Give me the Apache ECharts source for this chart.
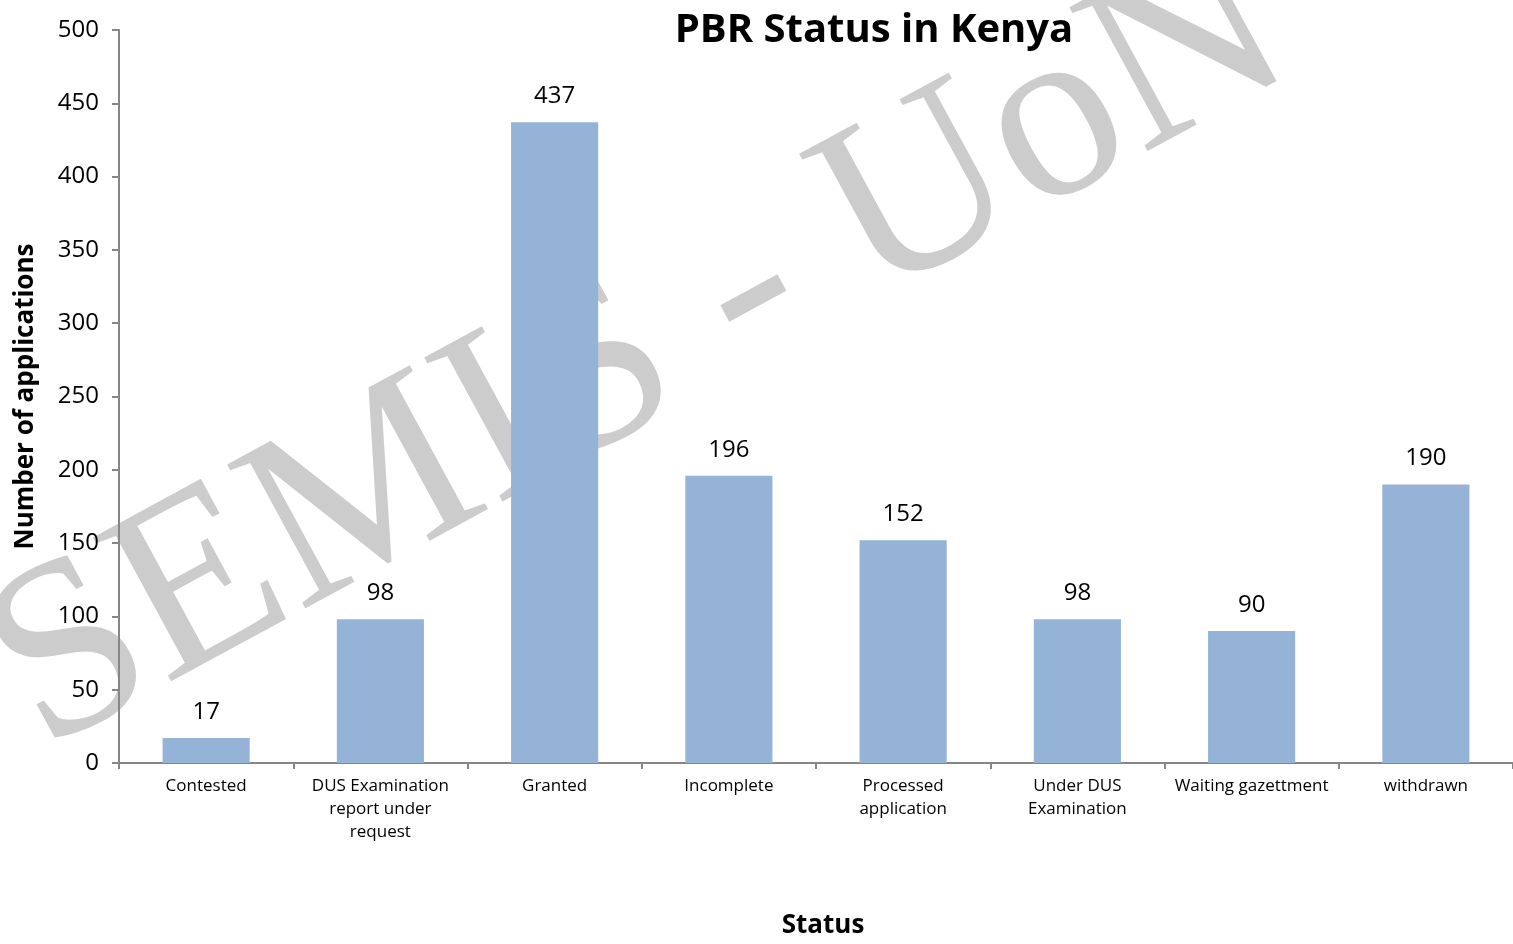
<!DOCTYPE html>
<html>
<head>
<meta charset="utf-8">
<script src="https://cdn.jsdelivr.net/npm/echarts@6/dist/echarts.min.js"></script>
<style>html,body{margin:0;padding:0;background:#fff;overflow:hidden}#c{width:1513px;height:944px}</style>
</head>
<body>
<div id="c"></div>
<script>
const categories = ['Contested', 'DUS Examination\nreport under\nrequest', 'Granted', 'Incomplete', 'Processed\napplication', 'Under DUS\nExamination', 'Waiting gazettment', 'withdrawn'];
const values = [17, 98, 437, 196, 152, 98, 90, 190];
const yTicks = { min: 0, max: 500, interval: 50 };
const titleText = 'PBR Status in Kenya';
const xName = 'Status';
const yName = 'Number of applications';
const watermark = 'SEMIS - UoN';

const FONT = '"Open Sans", Lato, "DejaVu Sans", sans-serif';
const chart = echarts.init(document.getElementById('c'), null, { renderer: 'canvas' });
chart.setOption({
  backgroundColor: '#ffffff',
  animation: false,
  title: {
    text: titleText, left: 869, top: 6, textAlign: 'center',
    textStyle: { fontFamily: FONT, fontSize: 40, fontWeight: 'bold', color: '#000' }
  },
  graphic: [{
    type: 'text', z: -1, silent: true,
    x: 640, y: 352, rotation: 28.5 * Math.PI / 180,
    style: {
      text: watermark, fontFamily: '"Liberation Serif", "DejaVu Serif", serif',
      fontSize: 250, fill: '#cccccc', textAlign: 'center', textVerticalAlign: 'middle'
    }
  }],
  grid: { left: 119, right: 0, top: 30, height: 738, containLabel: false },
  xAxis: {
    type: 'category', data: categories,
    name: xName, nameLocation: 'middle', nameGap: 150,
    nameTextStyle: { fontFamily: FONT, fontSize: 26, fontWeight: 'bold', color: '#000', padding: [0, 0, 0, 14] },
    axisLine: { lineStyle: { color: '#868686', width: 2 } },
    axisTick: { show: true, alignWithLabel: false, length: 6, lineStyle: { color: '#868686', width: 2 } },
    axisLabel: { interval: 0, margin: 12, fontFamily: FONT, fontSize: 17, color: '#000', lineHeight: 23 }
  },
  yAxis: {
    type: 'value', min: yTicks.min, max: yTicks.max, interval: yTicks.interval,
    name: yName, nameLocation: 'middle', nameGap: 80,
    nameTextStyle: { fontFamily: FONT, fontSize: 26, fontWeight: 'bold', color: '#000' },
    axisLine: { show: true, lineStyle: { color: '#868686', width: 2 } },
    axisTick: { show: true, length: 7, lineStyle: { color: '#868686', width: 2 } },
    splitLine: { show: false },
    axisLabel: { margin: 20, fontFamily: FONT, fontSize: 24, color: '#000' }
  },
  series: [{
    type: 'bar', data: values, barCategoryGap: '50%', z: 3,
    itemStyle: { color: '#95b3d7' },
    label: { show: true, position: 'top', distance: 14, fontFamily: FONT, fontSize: 24, color: '#000' }
  }]
});
</script>
</body>
</html>
